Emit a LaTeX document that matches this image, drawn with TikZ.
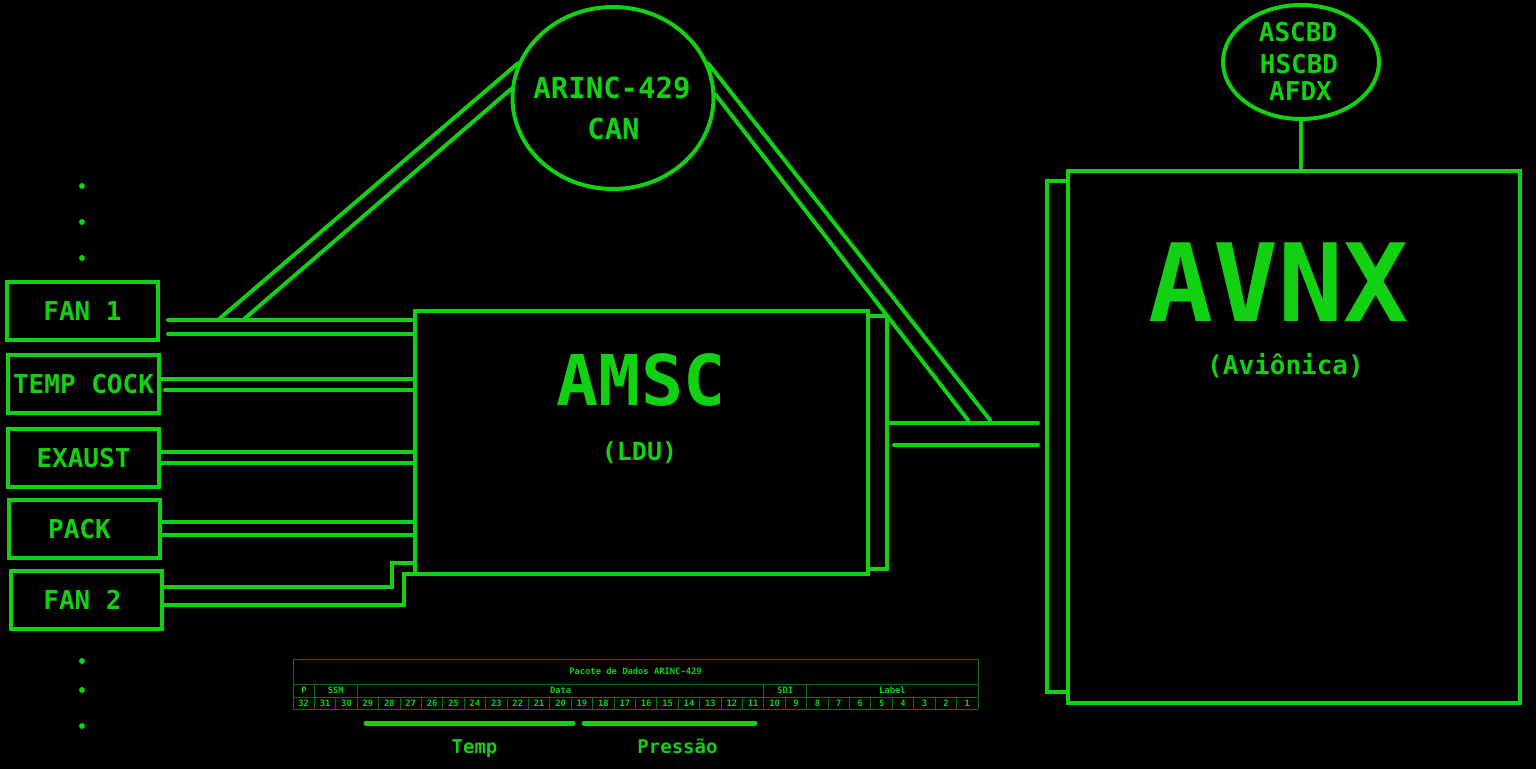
\documentclass[tikz,border=0pt]{standalone}
\usepackage{fontspec}
\setmonofont{DejaVu Sans Mono}
\usetikzlibrary{shapes.geometric}
\definecolor{termgreen}{HTML}{12D012}
\definecolor{darkgreen}{HTML}{0D6E0D}
\newcommand{\termfont}[1]{\ttfamily\bfseries\fontsize{#1}{#1}\selectfont}
\tikzset{
	box/.style={draw=termgreen, line width=2pt, minimum width=75.5pt, minimum height=29pt,
		inner sep=0pt, text=termgreen, font=\termfont{13}}
}
\tikzset{
	unit/.style={draw=termgreen, line width=2pt, inner sep=0pt},
	bus/.style={ellipse, draw=termgreen, line width=2pt, inner sep=0pt},
	txt/.style={text=termgreen, inner sep=0pt, anchor=base},
	wire/.style={termgreen, line width=2pt, line cap=round},
	bar/.style={termgreen, line width=2.5pt, line cap=round},
	grid/.style={darkgreen, line width=0.5pt},
	celltext/.style={text=termgreen, inner sep=0pt, font=\termfont{4.4}}
}

\begin{document}
\begin{tikzpicture}[x=0.5pt, y=-0.5pt]
      \fill[black] (0,0) rectangle (1536,769);
      \useasboundingbox (0,0) rectangle (1536,769);
      % sensors
      \node[box] (fan1) at (82.5,311.5) {FAN 1};
      \node[box] (temp) at (83.5,384.5) {TEMP COCK};
      \node[box] (exaust) at (83.5,458.5) {EXAUST};
      \node[box] (pack) at (84.5,529.5) {PACK\hspace*{5pt}};
      \node[box] (fan2) at (86.5,600) {FAN 2\hspace*{4pt}};
      \foreach \y in {186,222,258,661,690,726}
        \fill[termgreen] (82,\y) circle (3);
      % AMSC unit
      \draw[wire, line cap=butt] (868,316) rectangle (887,569);
      \node[unit, minimum width=226.5pt, minimum height=131.5pt] (amsc) at (641.5,442.5) {};
      \node[txt, font=\termfont{35}] (amsct) at (641,406) {AMSC};
      \node[txt, font=\termfont{12.5}] (ldu) at (639.5,461) {(LDU)};
      % AVNX unit
      \draw[wire, line cap=butt] (1047,181) rectangle (1068,692);
      \node[unit, minimum width=226pt, minimum height=266pt] (avnx) at (1294,437) {};
      \node[txt, font=\termfont{54}] (avnxt) at (1278.5,322) {AVNX};
      \node[txt, font=\termfont{13}] (avio) at (1285.5,375) {(Aviônica)};
      % buses
      \node[bus, minimum width=100.5pt, minimum height=91pt] (arinc) at (613,98) {};
      \node[txt, font=\termfont{14.5}] (arinct) at (612,99) {ARINC-429};
      \node[txt, font=\termfont{14.5}] (can) at (613.5,140) {CAN};
      \node[bus, minimum width=78pt, minimum height=57pt] (avbus) at (1301,62) {};
      \node[txt, font=\termfont{13}] (ascbd) at (1298,42) {ASCBD};
      \node[txt, font=\termfont{13}] (hscbd) at (1299,74) {HSCBD};
      \node[txt, font=\termfont{13}] (afdx) at (1300.5,101) {AFDX};
      \draw[wire] (avbus.south) -- (avbus.south |- avnx.north);
      % sensor lines into AMSC
      \foreach \src/\ya/\yb/\ga/\gb in {fan1/320/334/8/8, temp/379/390/0/4,
                                        exaust/452/463/0/0, pack/522/535/0/0} {
        \draw[wire] (\src.east |- 0,\ya) ++(\ga,0) -- (amsc.west |- 0,\ya);
        \draw[wire] (\src.east |- 0,\yb) ++(\gb,0) -- (amsc.west |- 0,\yb);
      }
      \draw[wire] (fan2.east |- 0,587) -| (392,563) -- (amsc.west |- 0,563);
      \draw[wire] (fan2.east |- 0,605) -| (404,574) -- (amsc.west |- 0,574);
      % ARINC-429 / CAN links
      \coordinate (la) at (218,320);
      \coordinate (lb) at (243,320);
      \coordinate (ra) at (990,420);
      \coordinate (rb) at (968,420);
      \draw[wire] (arinc.160) -- (la);
      \draw[wire] (arinc.175) -- (lb);
      \draw[wire] (arinc.20) -- (ra);
      \draw[wire] (arinc.2) -- (rb);
      % AMSC to AVNX
      \draw[wire] ([xshift=10pt]amsc.east |- 0,423) -- ([xshift=-14pt]avnx.west |- 0,423);
      \draw[wire] ([xshift=12pt]amsc.east |- 0,445) -- ([xshift=-14pt]avnx.west |- 0,445);
      % ARINC-429 word
      \foreach \y in {659,684,697,709}
        \draw[grid] (293,\y) -- (978,\y);
      \draw[grid] (293,659) -- (293,709);
      \draw[grid] (978,659) -- (978,709);
      \foreach \i in {1,3,22,24}
        \draw[grid] ({293+\i*21.40625},684) -- ({293+\i*21.40625},697);
      \foreach \i in {1,...,31}
        \draw[grid] ({293+\i*21.40625},697) -- ({293+\i*21.40625},709);
      \node[celltext] (pkt) at (635.5,671.5) {Pacote de Dados ARINC-429};
      \foreach \x/\t in {304/P, 335.8/SSM, 560.6/Data, 785.3/SDI, 892.4/Label}
        \node[celltext] (h\t) at (\x,690.5) {\t};
      \foreach \i [evaluate=\i as \n using {int(32-\i)}] in {0,...,31}
        \node[celltext] (b\n) at ({293+(\i+0.5)*21.40625},703) {\n};
      % fields
      \draw[bar] (366,723) -- (573,723);
      \draw[bar] (584,723) -- (755,723);
      \node[txt, font=\termfont{9.5}] (tempf) at (474.5,753) {Temp};
      \node[txt, font=\termfont{9.5}] (presf) at (677.5,753) {Pressão};
    \end{tikzpicture}
\end{document}
